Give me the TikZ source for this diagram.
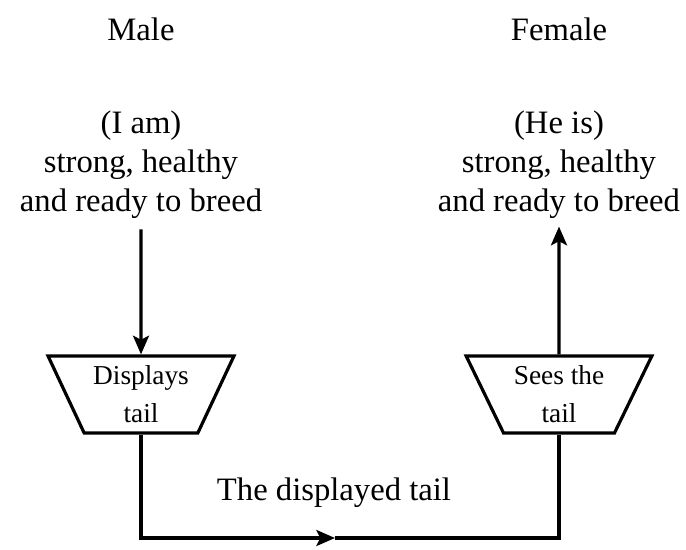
\documentclass[tikz,border=0pt]{standalone}
\usepackage{fontspec}
\setmainfont{Liberation Serif}
\usetikzlibrary{arrows.meta,shapes.geometric}

\begin{document}
\begin{tikzpicture}[line cap=butt,line join=miter,>={Stealth[length=14pt,width=12pt,inset=3pt]},
x=0.75pt,y=-0.75pt,
big/.style={font=\fontsize{24.5}{29}\selectfont,align=center,inner sep=0pt},
trap/.style={draw,line width=2.4pt,trapezium,trapezium angle=62,shape border rotate=180,
  trapezium stretches=true,minimum width=139.5pt,minimum height=57.75pt,inner sep=0pt,
  align=center,font=\fontsize{20.5}{28.5}\selectfont},
wire/.style={line width=2.4pt}]
\useasboundingbox (0,0) rectangle (686,550);
% titles
\node[big,anchor=base] (male) at (141,40) {Male};
\node[big,anchor=base] (female) at (559,40) {Female};
% what each one thinks
\node[big,anchor=north] (claim) at (141,111) {(I am)\\strong, healthy\\and ready to breed};
\node[big,anchor=north] (belief) at (559,111) {(He is)\\strong, healthy\\and ready to breed};
% the two boxes
\node[trap] (shows) at (141,394.5) {Displays\\tail};
\node[trap] (sees) at (559,394.5) {Sees the\\tail};
% connectors
\coordinate (mid) at (335,538);
\draw[wire,->,shorten <=8pt] (claim.south) -- (shows.north);
\draw[wire,->] (shows.south) |- (mid);
\draw[wire] (mid) -| (sees.south);
\draw[wire,->,shorten >=6pt] (sees.north) -- (belief.south);
\node[big,anchor=base] (tail) at (334,500) {The displayed tail};
\end{tikzpicture}
\end{document}
